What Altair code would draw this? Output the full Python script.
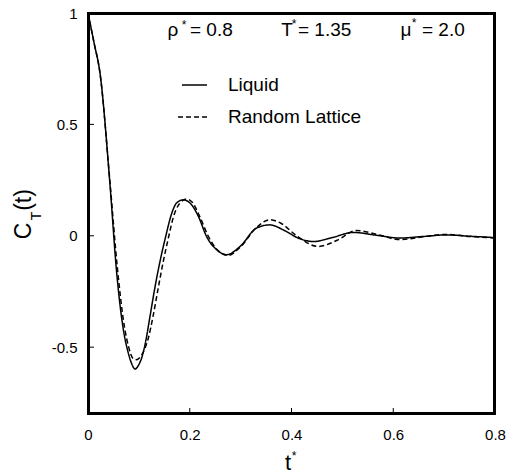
import altair as alt
import pandas as pd

# Liquid (solid)
liq_t = [0, 0.012, 0.0236, 0.0432, 0.0564, 0.0694, 0.0792, 0.0860, 0.0924, 0.100, 0.106, 0.112,
         0.122, 0.1317, 0.142, 0.152, 0.1645, 0.174, 0.187, 0.2005, 0.217, 0.233, 0.253, 0.2726,
         0.2988, 0.3316, 0.3577, 0.385, 0.415, 0.443, 0.48, 0.5215, 0.565, 0.613, 0.66, 0.705,
         0.75, 0.80]
liq_v = [1.0, 0.865, 0.73, 0.23, -0.167, -0.42, -0.526, -0.575, -0.598, -0.578, -0.545, -0.49,
         -0.36, -0.23, -0.11, -0.01, 0.10, 0.147, 0.161, 0.147, 0.087, -0.003, -0.063, -0.085,
         -0.048, 0.035, 0.049, 0.025, -0.012, -0.026, -0.008, 0.015, 0.003, -0.010, -0.003, 0.004,
         -0.002, -0.008]

# Random Lattice (dashed)
rl_t = [0, 0.012, 0.0236, 0.0432, 0.058, 0.071, 0.080, 0.089, 0.096, 0.104, 0.111, 0.1185, 0.128,
        0.138, 0.148, 0.158, 0.168, 0.180, 0.194, 0.205, 0.22, 0.236, 0.255, 0.275, 0.30, 0.33,
        0.3577, 0.38, 0.41, 0.4525, 0.49, 0.527, 0.57, 0.613, 0.66, 0.705, 0.75, 0.80]
rl_v = [1.0, 0.865, 0.73, 0.24, -0.15, -0.40, -0.50, -0.552, -0.556, -0.54, -0.51, -0.46, -0.36,
        -0.235, -0.115, -0.01, 0.085, 0.145, 0.165, 0.150, 0.085, 0.0, -0.065, -0.088, -0.05,
        0.035, 0.072, 0.055, 0.0, -0.048, -0.02, 0.024, 0.005, -0.017, -0.004, 0.006, -0.003,
        -0.01]

series_names = ["Liquid", "Random Lattice"]
x_ticks = [0, 0.2, 0.4, 0.6, 0.8]
y_ticks = [-0.5, 0, 0.5, 1]

FONT = "Liberation Sans"
W, H = 407, 401

df = pd.concat([
    pd.DataFrame({"t": liq_t, "v": liq_v, "s": series_names[0]}),
    pd.DataFrame({"t": rl_t, "v": rl_v, "s": series_names[1]}),
])

xs = alt.Scale(domain=[0, 0.8], nice=False, zero=False)
ys = alt.Scale(domain=[-0.8, 1], nice=False, zero=False)

lines = alt.Chart(df).mark_line(color="black", strokeWidth=1.5, interpolate="monotone").encode(
    x=alt.X("t:Q", scale=xs, axis=alt.Axis(values=x_ticks, format=".1~f", title=None, grid=False,
                                           domain=False, ticks=False, labelPadding=13,
                                           labelFontSize=15, labelFont=FONT, labelColor="black",
                                           labelFlush=False)),
    y=alt.Y("v:Q", scale=ys, axis=alt.Axis(values=y_ticks, labelExpr="datum.value + ''", title=None,
                                           grid=False, domain=False, ticks=False, labelPadding=11,
                                           labelFontSize=15, labelFont=FONT, labelColor="black",
                                           labelFlush=False)),
    strokeDash=alt.StrokeDash("s:N", scale=alt.Scale(domain=series_names, range=[[1, 0], [5, 3]]),
                              legend=None),
    detail="s:N",
)

one = pd.DataFrame({"k": [0]})


def seg(x1, x2, y1, y2, width=2, dash=None):
    kw = dict(color="black", strokeWidth=width)
    if dash:
        kw["strokeDash"] = dash
    return alt.Chart(one).mark_rule(**kw).encode(
        x=alt.value(x1), x2=alt.value(x2), y=alt.value(y1), y2=alt.value(y2))


frame = [
    seg(0, W, 1, 1),
    seg(0, W, H - 1, H - 1),
    seg(1, 1, 0, H),
    seg(W - 1, W - 1, 0, H),
]

xt = alt.Chart(pd.DataFrame({"t": x_ticks[1:-1]})).mark_rule(color="black", strokeWidth=1).encode(
    x=alt.X("t:Q", scale=xs), y=alt.value(H - 2), y2=alt.value(H - 6))
yt = alt.Chart(pd.DataFrame({"v": y_ticks[:-1]})).mark_rule(color="black", strokeWidth=1).encode(
    y=alt.Y("v:Q", scale=ys), x=alt.value(2), x2=alt.value(6))


def txt(s, x, y, size, align="left", baseline="middle", angle=0):
    return alt.Chart(one).mark_text(
        font=FONT, fontSize=size, align=align, baseline=baseline, angle=angle, color="black"
    ).encode(x=alt.value(x), y=alt.value(y), text=alt.value(s))


annos = [
    txt("ρ", 85, 17, 19, align="center"),
    txt("*", 96, 12, 12, align="center"),
    txt("= 0.8", 102, 17, 19),
    txt("T", 199, 17, 19, align="center"),
    txt("*", 206, 11, 12, align="center"),
    txt("= 1.35", 210, 17, 19),
    txt("μ", 318, 17, 19, align="center"),
    txt("*", 326, 10, 12, align="center"),
    txt("= 2.0", 334, 17, 19),
    txt("Liquid", 140, 72, 19),
    txt("Random Lattice", 140, 104, 19),
    txt("t", 200, 457, 22, align="center", baseline="alphabetic"),
    txt("*", 206, 443, 12, align="center"),
    txt("C", -64, 218, 23, align="center", angle=270),
    txt("T", -51, 203, 14, align="center", angle=270),
    txt("(t)", -64, 187, 23, align="center", angle=270),
]

leg = [
    seg(94, 119, 72, 72, width=1.5),
    seg(90, 122, 104, 104, width=1.5, dash=[5, 3]),
]

chart = alt.layer(lines, *frame, xt, yt, *leg, *annos).properties(
    width=W, height=H,
    autosize=alt.AutoSizeParams(type="none"),
    padding={"left": 88, "top": 13, "right": 21, "bottom": 62},
    background="white",
).configure_view(stroke="black", strokeWidth=2)

chart.save("out.html", embed_options={"renderer": "svg", "actions": False})
